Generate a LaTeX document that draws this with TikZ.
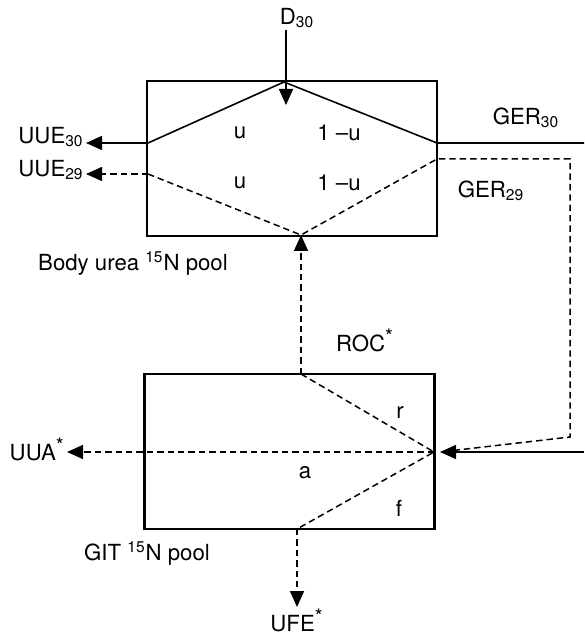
\documentclass[tikz,border=0pt]{standalone}
\usepackage{fontspec}
\setmainfont{TeX Gyre Heros}
\usetikzlibrary{arrows.meta,positioning}
\newcommand{\starmark}{\textsuperscript{\fontsize{10}{10}\selectfont *}}

\begin{document}
\begin{tikzpicture}[x=0.5pt,y=-0.5pt,
pool/.style={rectangle, draw, line width=1.2pt, inner sep=0pt, minimum width=145pt, minimum height=77.5pt},
lbl/.style={font=\fontsize{11.1}{13}\selectfont, inner sep=1pt},
solidflow/.style={line width=0.8pt},
dashflow/.style={line width=0.75pt, dash pattern=on 3.2pt off 2pt},
arrowed/.style={-{Triangle[length=8pt,width=7pt]}}
]
\useasboundingbox (0,0) rectangle (584,635);
\node[pool] (body) at (292,158.5) {};
\node[pool] (git) at (289.5,451.5) {};
\coordinate (top) at (284,82);
\coordinate (dtip) at (286,105);
\coordinate (uL) at (148,143);
\coordinate (uR) at (437,143);
\coordinate (lL) at (148,174);
\coordinate (bot) at (301,235);
\coordinate (lR) at (437,159);
\coordinate (gerA) at (570,159);
\coordinate (gerB) at (570,437);
\coordinate (gerout) at (584,143);
\coordinate (gerin) at (584,452);
\coordinate (mix) at (434,452);
\coordinate (mixtip) at (440,452);
\coordinate (roc) at (301,374);
\coordinate (fae) at (297,529);
\node[lbl] (d30) at (297,18) {D\textsubscript{30}};
\node[lbl, anchor=east] (uue30) at (86,137) {UUE\textsubscript{30}};
\node[lbl, anchor=east] (uue29) at (86,170) {UUE\textsubscript{29}};
\node[lbl] (ger30) at (526,118) {GER\textsubscript{30}};
\node[lbl] (ger29) at (491,191) {GER\textsubscript{29}};
\node[lbl] (u30) at (240,133) {u};
\node[lbl] (v30) at (339,133) {1 --u};
\node[lbl] (u29) at (240,183) {u};
\node[lbl] (v29) at (339,183) {1 --u};
\node[lbl] (bodylbl) at (133,263) {Body urea \textsuperscript{15}N pool};
\node[lbl] (roclbl) at (365,340) {ROC\starmark};
\node[lbl] (rlbl) at (400,413) {r};
\node[lbl] (albl) at (305,473) {a};
\node[lbl] (flbl) at (399,508) {f};
\node[lbl, anchor=east] (uua) at (67,449) {UUA\starmark};
\node[lbl] (gitlbl) at (147,553) {GIT \textsuperscript{15}N pool};
\node[lbl, anchor=north] (ufe) at (297,607) {UFE\starmark};
\draw[solidflow, arrowed] (d30.south -| dtip) -- (dtip);
\draw[solidflow] (uL) -- (top) -- (uR) -- (gerout);
\draw[solidflow, arrowed] (uL) -- (uue30.east |- uL);
\draw[dashflow] (lL) -- (bot) -- (lR) -- (gerA) -- (gerB) -- (mixtip);
\draw[dashflow, arrowed] (lL) -- (uue29.east |- lL);
\draw[dashflow, arrowed] (roc) -- (bot);
\draw[dashflow] (roc) -- (mix) -- (fae);
\draw[dashflow, arrowed] (mix) -- (uua.east |- mix);
\draw[dashflow, arrowed] (fae) -- (ufe.north);
\draw[solidflow, arrowed] (gerin) -- (mixtip);
\end{tikzpicture}
\end{document}
